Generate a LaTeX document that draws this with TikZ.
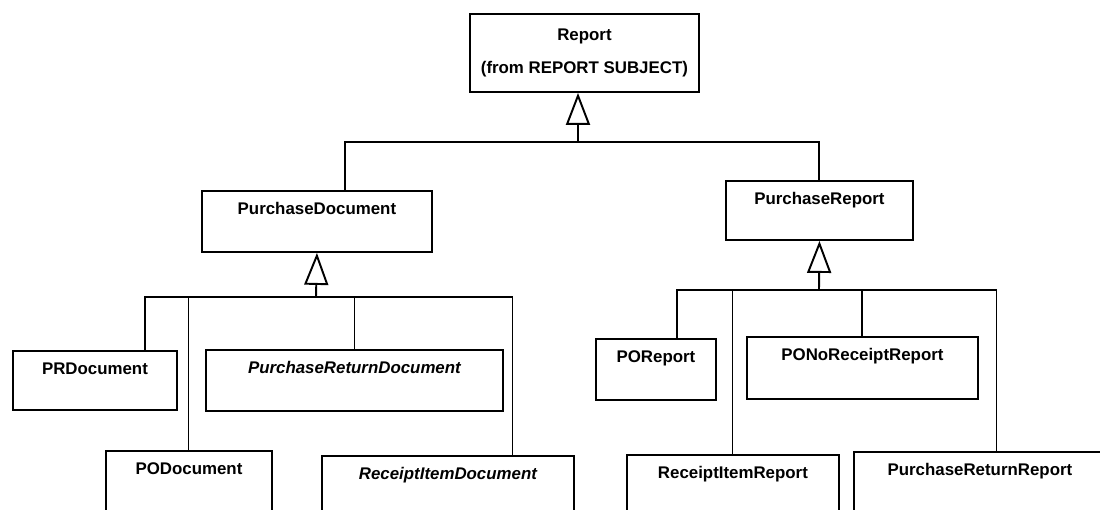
\documentclass[tikz,border=0pt]{standalone}
\usepackage{fontspec}
\setmainfont{Liberation Sans}
\usetikzlibrary{arrows.meta}

\begin{document}
\begin{tikzpicture}[
  x=0.02cm, y=-0.02cm,
  box/.style={rectangle, draw, line width=1.1pt, anchor=north west, inner xsep=2pt, inner ysep=0pt, font=\fontsize{9.6}{11.5}\selectfont\bfseries},
  cls/.style={box, text height=0.48cm},
  abscls/.style={cls, font=\fontsize{9.6}{11.5}\selectfont\bfseries\itshape},
  bar/.style={line width=1.1pt},
  link/.style={line width=0.6pt},
  inh/.style={line width=1.1pt, -{Triangle[open, length=0.64cm, width=0.48cm]}}
]
\useasboundingbox (0,0) rectangle (1100,510);

% Classes
\node[box, align=center, minimum width=4.58cm, minimum height=1.56cm] (report) at (469,13) {Report\\[7.2pt](from REPORT SUBJECT)};
\node[cls, minimum width=4.6cm, text depth=0.74cm] (pdoc) at (201,190) {PurchaseDocument};
\node[cls, minimum width=3.74cm, text depth=0.70cm] (prep) at (725,180) {PurchaseReport};

% Documents
\node[cls, minimum width=3.28cm, text depth=0.70cm] (prdoc) at (12,350) {PRDocument};
\node[abscls, minimum width=5.94cm, text depth=0.74cm] (pretdoc) at (205,349) {PurchaseReturnDocument};
\node[cls, minimum width=3.32cm, text depth=1.2cm] (podoc) at (105,450) {PODocument};
\node[abscls, minimum width=5.04cm, text depth=1.2cm] (ridoc) at (321,455) {ReceiptItemDocument};

% Reports
\node[cls, minimum width=2.4cm, text depth=0.74cm] (porep) at (595,338) {POReport};
\node[cls, minimum width=4.62cm, text depth=0.76cm] (ponorep) at (746,336) {PONoReceiptReport};
\node[cls, minimum width=4.24cm, text depth=1.2cm] (rirep) at (626,454) {ReceiptItemReport};
\node[cls, minimum width=5.04cm, text depth=1.2cm] (pretrep) at (853,451) {PurchaseReturnReport};

% Bus points
\coordinate (j0) at (578,142);
\coordinate (j1) at (316,297);
\coordinate (j2) at (819,290);
\coordinate (d1) at ([xshift=1cm]prdoc.north);
\coordinate (d4) at ([xshift=1.3cm]ridoc.north);
\coordinate (d5) at ([xshift=0.42cm]porep.north);
\coordinate (d8) at ([xshift=0.34cm]pretrep.north);

% Report
\draw[bar] ([xshift=0.56cm]pdoc.north) |- (j0);
\draw[bar] (prep.north) |- (j0);
\draw[inh] (j0) -- (j0 |- report.south);

% PurchaseDocument
\draw[bar] (d1) |- (j1);
\draw[bar] (j1) -- (d4 |- j1);
\draw[link] (podoc.north) -- (podoc.north |- j1);
\draw[link] (pretdoc.north) -- (pretdoc.north |- j1);
\draw[link] (d4) -- (d4 |- j1);
\draw[inh] (j1) -- (pdoc.south);

% PurchaseReport
\draw[bar] (d5) |- (j2);
\draw[bar] (ponorep.north) |- (j2);
\draw[bar] (j2) -- (d8 |- j2);
\draw[link] (rirep.north) -- (rirep.north |- j2);
\draw[link] (d8) -- (d8 |- j2);
\draw[inh] (j2) -- (prep.south);

\end{tikzpicture}
\end{document}
